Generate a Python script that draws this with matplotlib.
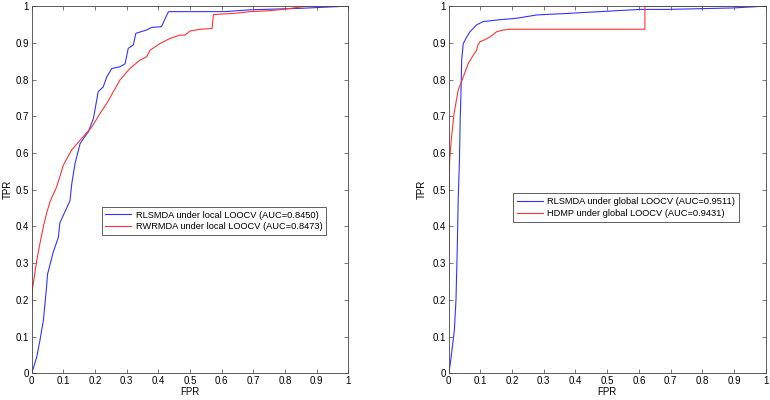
import matplotlib.pyplot as plt

plt.rcParams['font.family'] = ['Liberation Sans', 'DejaVu Sans']
plt.rcParams['font.size'] = 7

# left panel: local LOOCV
rls_local_fpr = [0, 0.016, 0.026, 0.037, 0.047, 0.05, 0.068, 0.084, 0.089, 0.105, 0.121,
                 0.126, 0.137, 0.153, 0.179, 0.195, 0.21, 0.226, 0.237, 0.253, 0.279, 0.295,
                 0.305, 0.321, 0.329, 0.363, 0.379, 0.41, 0.432, 0.61, 0.69, 0.85, 1.0]
rls_local_tpr = [0, 0.045, 0.09, 0.145, 0.236, 0.27, 0.33, 0.37, 0.41, 0.44, 0.47,
                 0.513, 0.572, 0.626, 0.658, 0.694, 0.767, 0.78, 0.807, 0.83, 0.835, 0.843,
                 0.885, 0.894, 0.926, 0.935, 0.942, 0.944, 0.985, 0.985, 0.99, 0.994, 1.0]
rwr_local_fpr = [0, 0.002, 0.016, 0.026, 0.037, 0.047, 0.058, 0.079, 0.1, 0.126, 0.158,
                 0.19, 0.216, 0.237, 0.258, 0.279, 0.31, 0.342, 0.363, 0.374, 0.405, 0.437,
                 0.468, 0.484, 0.5, 0.532, 0.57, 0.574, 0.637, 0.69, 0.74, 0.795, 0.869, 1.0]
rwr_local_tpr = [0.177, 0.227, 0.308, 0.354, 0.4, 0.436, 0.468, 0.508, 0.567, 0.608, 0.64,
                 0.671, 0.708, 0.735, 0.767, 0.799, 0.83, 0.853, 0.862, 0.88, 0.898, 0.912,
                 0.921, 0.921, 0.932, 0.937, 0.939, 0.977, 0.98, 0.985, 0.987, 0.991, 1.0, 1.0]

# right panel: global LOOCV
rls_global_fpr = [0, 0.006, 0.013, 0.018, 0.023, 0.027, 0.03, 0.034, 0.036, 0.039, 0.041,
                  0.046, 0.057, 0.067, 0.088, 0.109, 0.162, 0.215, 0.278, 0.372, 0.477,
                  0.603, 0.687, 0.897, 1.0]
rls_global_tpr = [0, 0.032, 0.082, 0.118, 0.2, 0.336, 0.472, 0.58, 0.68, 0.771, 0.853,
                  0.898, 0.916, 0.93, 0.949, 0.958, 0.963, 0.967, 0.976, 0.98, 0.985,
                  0.991, 0.991, 0.995, 1.0]
hdmp_global_fpr = [0, 0.001, 0.003, 0.008, 0.017, 0.03, 0.046, 0.062, 0.078, 0.088, 0.092,
                   0.099, 0.115, 0.13, 0.151, 0.172, 0.193, 0.619, 0.619, 1.0]
hdmp_global_tpr = [0.263, 0.47, 0.58, 0.635, 0.708, 0.771, 0.807, 0.844, 0.867, 0.88, 0.894,
                   0.903, 0.909, 0.916, 0.93, 0.935, 0.937, 0.937, 1.0, 1.0]

ticks = [0, 0.1, 0.2, 0.3, 0.4, 0.5, 0.6, 0.7, 0.8, 0.9, 1]
tick_labels = ['0', '0.1', '0.2', '0.3', '0.4', '0.5', '0.6', '0.7', '0.8', '0.9', '1']

fig = plt.figure(figsize=(7.7, 4), dpi=100)
ax1 = fig.add_axes([0.0412, 0.0667, 0.411, 0.918])
ax2 = fig.add_axes([0.5827, 0.0667, 0.4117, 0.918])

ax1.plot(rls_local_fpr, rls_local_tpr, color='#3333ff', lw=0.8,
         label='RLSMDA under local LOOCV (AUC=0.8450)')
ax1.plot(rwr_local_fpr, rwr_local_tpr, color='#ff3333', lw=0.8,
         label='RWRMDA under local LOOCV (AUC=0.8473)')
ax2.plot(rls_global_fpr, rls_global_tpr, color='#3333ff', lw=0.8,
         label='RLSMDA under global LOOCV (AUC=0.9511)')
ax2.plot(hdmp_global_fpr, hdmp_global_tpr, color='#ff3333', lw=0.8,
         label='HDMP under global LOOCV (AUC=0.9431)')

for ax in (ax1, ax2):
    ax.set_xlim(0, 1)
    ax.set_ylim(0, 1)
    ax.set_xticks(ticks)
    ax.set_xticklabels(tick_labels)
    ax.set_yticks(ticks)
    ax.set_yticklabels(tick_labels)
    ax.tick_params(direction='in', top=True, right=True, length=3, width=0.5,
                   labelsize=7, pad=2, color='#444444')
    for s in ax.spines.values():
        s.set_linewidth(0.6)
        s.set_color('#444444')
    ax.set_xlabel('FPR', fontsize=7, labelpad=1)
ax1.set_ylabel('TPR', fontsize=7, labelpad=2)
ax2.set_ylabel('TPR', fontsize=7, labelpad=4)

leg_kw = dict(loc='upper left', fontsize=6.7, frameon=True, fancybox=False,
              edgecolor='#444444', framealpha=1, borderpad=0.4, borderaxespad=0,
              handlelength=2.8, handletextpad=0.5, labelspacing=0.3)
ax1.legend(bbox_to_anchor=(0.221, 0.453), **leg_kw).get_frame().set_linewidth(0.6)
ax2.legend(bbox_to_anchor=(0.203, 0.49), **leg_kw).get_frame().set_linewidth(0.6)

plt.savefig('out.png', dpi=100)
